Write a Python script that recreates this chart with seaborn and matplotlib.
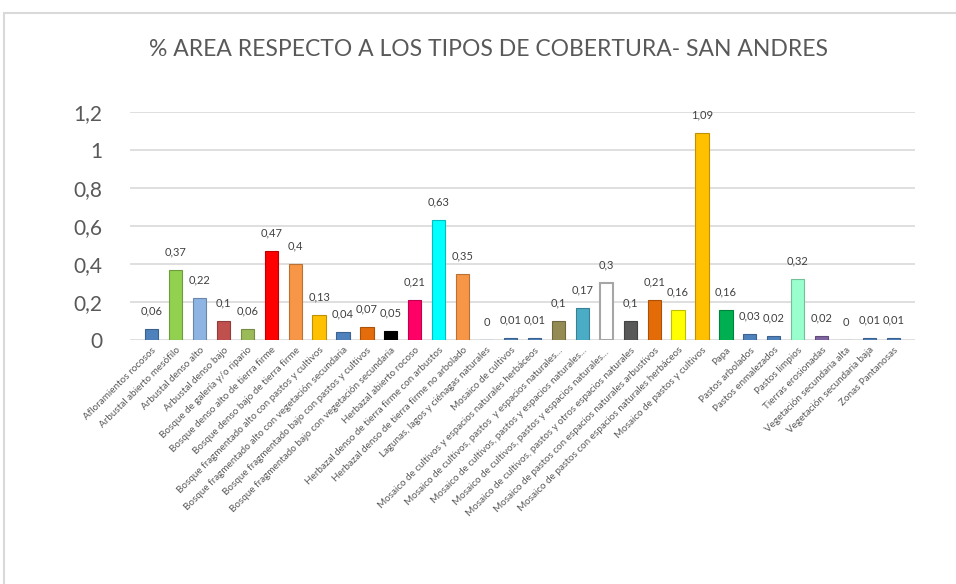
import numpy as np
import pandas as pd
import matplotlib
matplotlib.use('Agg')
import matplotlib.pyplot as plt
import matplotlib.colors as mcolors
from matplotlib.patches import Rectangle
import seaborn as sns

sns.set_style('white')
plt.rcParams['font.family'] = ['Lato', 'DejaVu Sans']

coberturas = [
    'Afloramientos rocosos',
    'Arbustal abierto mesófilo',
    'Arbustal denso alto',
    'Arbustal denso bajo',
    'Bosque de galería y/o ripario',
    'Bosque denso alto de tierra firme',
    'Bosque denso bajo de tierra firme',
    'Bosque fragmentado alto con pastos y cultivos',
    'Bosque fragmentado alto con vegetación secundaria',
    'Bosque fragmentado bajo con pastos y cultivos',
    'Bosque fragmentado bajo con vegetación secundaria',
    'Herbazal abierto rocoso',
    'Herbazal denso de tierra firme con arbustos',
    'Herbazal denso de tierra firme no arbolado',
    'Lagunas, lagos y ciénagas naturales',
    'Mosaico de cultivos',
    'Mosaico de cultivos y espacios naturales herbáceos',
    'Mosaico de cultivos, pastos  y espacios naturales...',
    'Mosaico de cultivos, pastos y espacios naturales...',
    'Mosaico de cultivos, pastos y espacios naturales... ',
    'Mosaico de cultivos, pastos y otros espacios naturales',
    'Mosaico de pastos con espacios naturales arbustivos',
    'Mosaico de pastos con espacios naturales herbáceos',
    'Mosaico de pastos y cultivos',
    'Papa',
    'Pastos arbolados',
    'Pastos enmalezados',
    'Pastos limpios',
    'Tierras erosionadas',
    'Vegetación secundaria alta',
    'Vegetación secundaria baja',
    'Zonas Pantanosas',
]

area_pct = [0.06, 0.37, 0.22, 0.1, 0.06, 0.47, 0.4, 0.13, 0.04, 0.07, 0.05,
            0.21, 0.63, 0.35, 0.0, 0.01, 0.01, 0.1, 0.17, 0.3, 0.1, 0.21,
            0.16, 1.09, 0.16, 0.03, 0.02, 0.32, 0.02, 0.0, 0.01, 0.01]

colores = ['#4F81BD', '#92D050', '#8DB4E2', '#C0504D', '#9BBB59', '#FF0000',
           '#F79646', '#FFC000', '#4F81BD', '#E46C0A', '#000000', '#FF0066',
           '#00FFFF', '#F79646', '#4F81BD', '#4F81BD', '#4F81BD', '#948A54',
           '#4BACC6', '#FFFFFF', '#595959', '#E36C09', '#FFFF00', '#FFC000',
           '#00B050', '#4F81BD', '#4F81BD', '#99FFCC', '#8064A2', '#4F81BD',
           '#4F81BD', '#4F81BD']

df = pd.DataFrame({'cobertura': coberturas, 'pct': area_pct})

fig = plt.figure(figsize=(9.56, 5.84), dpi=100)
ax = fig.add_axes([130 / 956, 1 - 340 / 584, 785 / 956, 228 / 584])

sns.barplot(data=df, x='cobertura', y='pct', hue='cobertura',
            palette=dict(zip(coberturas, colores)), order=coberturas,
            legend=False, width=0.55, saturation=1, ax=ax)

# darker edge to hint at the 3d look of the original
for bar, c in zip(ax.patches, colores):
    if c == '#FFFFFF':
        bar.set_edgecolor('#A6A6A6')
        bar.set_linewidth(1.5)
    else:
        dark = np.array(mcolors.to_rgb(c)) * 0.75
        bar.set_edgecolor(dark)
        bar.set_linewidth(0.8)

for i, v in enumerate(area_pct):
    ax.annotate(f'{v:g}'.replace('.', ','), (i, v), xytext=(0, 9),
                textcoords='offset points', ha='center', va='bottom',
                fontsize=8, color='#404040')

ax.set_ylim(0, 1.2)
ax.set_xlim(-0.9, len(coberturas) - 0.1)
yt = np.arange(0, 1.21, 0.2)
ax.set_yticks(yt)
ax.set_yticklabels([f'{t:g}'.replace('.', ',') for t in np.round(yt, 1)],
                   fontsize=15, color='#595959')
ax.tick_params(axis='y', length=0, pad=20)
ax.set_xticks(range(len(coberturas)))
ax.set_xticklabels(coberturas, rotation=45, ha='right', rotation_mode='anchor',
                   fontsize=7.1, color='#595959')
ax.tick_params(axis='x', length=0, pad=4)
ax.grid(axis='y', color='#D9D9D9', linewidth=1.2)
ax.set_axisbelow(True)
sns.despine(ax=ax, left=True, bottom=True)
ax.set_xlabel('')
ax.set_ylabel('')

fig.text(0.511, 1 - 49 / 584, '% AREA RESPECTO A LOS TIPOS DE COBERTURA- SAN ANDRES',
         ha='center', va='center', fontsize=16.5, color='#595959')

fig.patches.append(Rectangle((4 / 956, -0.05), 1.0, 1 - 13 / 584 + 0.05,
                             transform=fig.transFigure, fill=False,
                             edgecolor='#D9D9D9', linewidth=1.5))

fig.savefig('out.png', dpi=100)
